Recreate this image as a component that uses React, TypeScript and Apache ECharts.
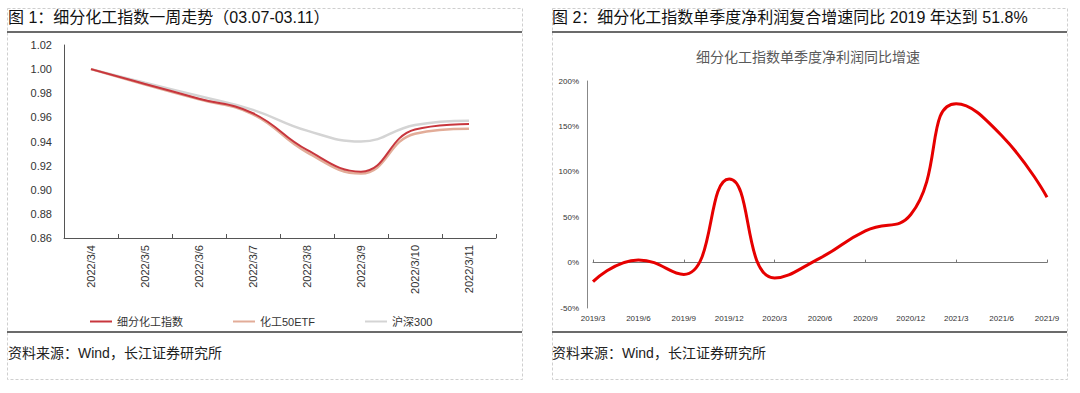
import React, { useEffect, useRef } from "react";
import * as echarts from "echarts";

// ---- Data: Figure 1 (weekly trend, normalized) ----
const weekDates = ["2022/3/4", "2022/3/5", "2022/3/6", "2022/3/7", "2022/3/8", "2022/3/9", "2022/3/10", "2022/3/11"];
const fineChemIndex = [1.0, 0.9877, 0.9755, 0.9634, 0.933, 0.915, 0.95, 0.9545];
const chemEtf = [1.0, 0.9872, 0.975, 0.9625, 0.931, 0.9135, 0.9465, 0.9505];
const hs300 = [1.0, 0.9887, 0.9777, 0.9662, 0.949, 0.94, 0.9537, 0.9573];
const yTicks1 = { min: 0.86, max: 1.02, step: 0.02 };

// ---- Data: Figure 2 (quarterly net profit YoY growth, %) ----
const quarters = ["2019/3", "2019/6", "2019/9", "2019/12", "2020/3", "2020/6", "2020/9", "2020/12", "2021/3", "2021/6", "2021/9"];
const profitGrowth = [-21, 3, -13, 92, -17, 5, 35, 53, 175, 140, 72];
const yTicks2 = { min: -50, max: 200, step: 50 };

const FONT_LATIN = "'Liberation Sans', 'Noto Sans CJK SC', sans-serif";

export default function App() {
  const ref = useRef<HTMLDivElement>(null);

  useEffect(() => {
    if (!ref.current) return;
    const chart = echarts.init(ref.current, undefined, { renderer: "svg" });

    const dashed = { stroke: "#cfcfcf", lineWidth: 1, lineDash: [3, 2] };
    const solid = { stroke: "#3a3a3a", lineWidth: 1.5 };

    const option: any = {
      animation: false,
      backgroundColor: "#ffffff",
      textStyle: { fontFamily: FONT_LATIN },
      graphic: [
        { type: "rect", shape: { x: 7.5, y: 8.5, width: 515, height: 371 }, style: { ...dashed, fill: "none" }, silent: true },
        { type: "rect", shape: { x: 552.5, y: 8.5, width: 515, height: 371 }, style: { ...dashed, fill: "none" }, silent: true },
        { type: "line", shape: { x1: 7, y1: 32, x2: 522, y2: 32 }, style: solid, silent: true },
        { type: "line", shape: { x1: 552, y1: 32, x2: 1067, y2: 32 }, style: solid, silent: true },
        { type: "line", shape: { x1: 7, y1: 332, x2: 522, y2: 332 }, style: solid, silent: true },
        { type: "line", shape: { x1: 552, y1: 332, x2: 1067, y2: 332 }, style: solid, silent: true },
        {
          type: "text", x: 8, y: 17,
          style: { text: "图 1：细分化工指数一周走势（03.07-03.11）", fill: "#111", font: `16px ${FONT_LATIN}`, textVerticalAlign: "middle" },
        },
        {
          type: "text", x: 552, y: 17,
          style: { text: "图 2：细分化工指数单季度净利润复合增速同比 2019 年达到 51.8%", fill: "#111", font: `16px ${FONT_LATIN}`, textVerticalAlign: "middle" },
        },
        {
          type: "text", x: 808, y: 57,
          style: { text: "细分化工指数单季度净利润同比增速", fill: "#595959", font: `14px ${FONT_LATIN}`, textAlign: "center", textVerticalAlign: "middle" },
        },
        {
          type: "text", x: 8, y: 353,
          style: { text: "资料来源：Wind，长江证券研究所", fill: "#222", font: `14px ${FONT_LATIN}`, textVerticalAlign: "middle" },
        },
        {
          type: "text", x: 552, y: 353,
          style: { text: "资料来源：Wind，长江证券研究所", fill: "#222", font: `14px ${FONT_LATIN}`, textVerticalAlign: "middle" },
        },
      ],
      legend: {
        left: 85,
        top: 311,
        itemGap: 50,
        itemWidth: 22,
        itemHeight: 2,
        icon: "rect",
        textStyle: { fontSize: 11, color: "#333", fontFamily: FONT_LATIN },
        data: ["细分化工指数", "化工50ETF", "沪深300"],
      },
      grid: [
        { left: 64, right: 584, top: 45, bottom: 155 },
        { left: 593, right: 33, top: 81, bottom: 85 },
      ],
      xAxis: [
        {
          gridIndex: 0,
          type: "category",
          data: weekDates,
          boundaryGap: true,
          axisLine: { lineStyle: { color: "#555", width: 1 } },
          axisTick: { show: true, inside: true, length: 4, lineStyle: { color: "#555" } },
          axisLabel: { rotate: 90, fontSize: 11, color: "#333", margin: 7, fontFamily: FONT_LATIN },
        },
        {
          gridIndex: 1,
          type: "category",
          data: quarters,
          boundaryGap: false,
          axisLine: { onZero: true, lineStyle: { color: "#777", width: 1 } },
          axisTick: { show: true, inside: true, length: 3, lineStyle: { color: "#777" } },
          axisLabel: { show: false },
        },
        {
          gridIndex: 1,
          type: "category",
          data: quarters,
          boundaryGap: false,
          position: "bottom",
          axisLine: { show: false, onZero: false },
          axisTick: { show: false },
          axisLabel: { fontSize: 8, color: "#333", margin: 6, fontFamily: FONT_LATIN },
        },
      ],
      yAxis: [
        {
          gridIndex: 0,
          type: "value",
          min: yTicks1.min,
          max: yTicks1.max,
          interval: yTicks1.step,
          splitLine: { show: false },
          axisLine: { show: true, lineStyle: { color: "#555", width: 1 } },
          axisTick: { show: false },
          axisLabel: { fontSize: 11, color: "#333", margin: 12, fontFamily: FONT_LATIN, formatter: (v: number) => v.toFixed(2) },
        },
        {
          gridIndex: 1,
          type: "value",
          min: yTicks2.min,
          max: yTicks2.max,
          interval: yTicks2.step,
          offset: 6,
          splitLine: { show: false },
          axisLine: { show: true, lineStyle: { color: "#888", width: 1 } },
          axisTick: { show: false },
          axisLabel: { fontSize: 8, color: "#333", margin: 8, fontFamily: FONT_LATIN, formatter: (v: number) => `${v}%` },
        },
      ],
      series: [
        {
          name: "沪深300",
          type: "line",
          xAxisIndex: 0,
          yAxisIndex: 0,
          data: hs300,
          smooth: 0.45,
          symbol: "none",
          lineStyle: { color: "#d4d4d4", width: 2.5 },
          itemStyle: { color: "#d4d4d4" },
          z: 2,
        },
        {
          name: "化工50ETF",
          type: "line",
          xAxisIndex: 0,
          yAxisIndex: 0,
          data: chemEtf,
          smooth: 0.45,
          symbol: "none",
          lineStyle: { color: "#e2ac98", width: 2.5 },
          itemStyle: { color: "#e2ac98" },
          z: 3,
        },
        {
          name: "细分化工指数",
          type: "line",
          xAxisIndex: 0,
          yAxisIndex: 0,
          data: fineChemIndex,
          smooth: 0.45,
          symbol: "none",
          lineStyle: { color: "#c8363d", width: 2 },
          itemStyle: { color: "#c8363d" },
          z: 4,
        },
        {
          name: "净利润同比增速",
          type: "line",
          xAxisIndex: 1,
          yAxisIndex: 1,
          data: profitGrowth,
          smooth: 0.5,
          symbol: "none",
          lineStyle: { color: "#e60000", width: 3 },
          itemStyle: { color: "#e60000" },
        },
      ],
    };

    chart.setOption(option);
    return () => chart.dispose();
  }, []);

  return (
    <div
      ref={ref}
      style={{ position: "absolute", left: 0, top: 0, width: 1080, height: 393, background: "#fff" }}
    />
  );
}
